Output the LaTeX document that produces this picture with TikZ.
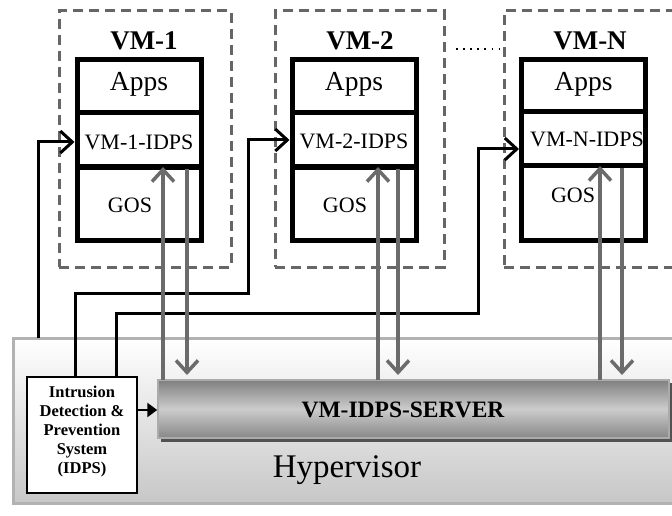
\documentclass[tikz,border=0pt]{standalone}
\usepackage{fontspec}
\setmainfont{Liberation Serif}
\usetikzlibrary{arrows.meta}
\tikzset{
  dashbox/.style={draw=black!60, line width=3pt, dash pattern=on 10pt off 6pt},
  vmpart/.style={draw, line width=5pt, minimum width=124pt, inner sep=0pt, fill=white},
  conn/.style={line width=3pt, -{Straight Barb[length=12pt,width=22pt]}},
  garrow/.style={draw=black!58, line width=3.5pt, -{Straight Barb[length=12pt,width=22pt]}},
  vmtitle/.style={font=\bfseries\fontsize{27}{30}\selectfont},
  appsfont/.style={font=\fontsize{27.5}{30}\selectfont},
  idpsfont/.style={font=\fontsize{22}{24}\selectfont},
  gosfont/.style={font=\fontsize{22}{24}\selectfont},
}
\begin{document}
\begin{tikzpicture}[x=1pt,y=-1pt]
\clip (0,0) rectangle (672,516);
\useasboundingbox (0,0) rectangle (672,516);
\fill[white] (0,0) rectangle (672,516);

% hypervisor
\node[draw=black!30, line width=3pt, top color=white, bottom color=black!22,
      minimum width=677pt, minimum height=165pt, inner sep=0pt] (hyp) at (351.5,420.5) {};
\node[font=\fontsize{33}{36}\selectfont] (hyptxt) at (347,470) {Hypervisor};

% server with shadow
\fill[black!68] (161,383) rectangle (672,442);
\node[draw=black!33, line width=1.5pt, top color=black!50, bottom color=black!47, middle color=black!20,
      minimum width=511pt, minimum height=58pt, inner sep=0pt] (srv) at (413.5,409) {};
\node[font=\bfseries\fontsize{23.5}{26}\selectfont] (srvtxt) at (403,410) {VM-IDPS-SERVER};

% IDPS box
\node[draw, line width=2pt, fill=white, minimum width=110pt, minimum height=116pt, inner sep=0pt] (idps) at (82,435) {};
\node[font=\bfseries\fontsize{16.5}{19}\selectfont, align=center] (idpstxt) at (82,432)
  {Intrusion\\Detection \&\\Prevention\\System\\(IDPS)};
\draw[line width=2.5pt, -{Triangle[length=10pt,width=14pt]}] (idps.east |- 0,410) -- (srv.west |- 0,410);

% dashed VM frames
\node[dashbox, minimum width=172pt, minimum height=256pt, inner sep=0pt] (d1) at (145,139) {};
\node[dashbox, minimum width=169pt, minimum height=256pt, inner sep=0pt] (d2) at (359.5,139) {};
\node[dashbox, minimum width=190pt, minimum height=256pt, inner sep=0pt] (dn) at (599,139) {};

% VM-1
\node[vmtitle] (t1) at (144,41) {VM-1};
\node[vmpart, minimum height=53pt] (a1) at (139,86.5) {};
\node[vmpart, minimum height=54pt] (i1) at (139,140) {};
\node[vmpart, minimum height=73pt] (g1) at (139,203.5) {};
\node[appsfont] (a1t) at (139,84) {Apps};
\node[idpsfont] (i1t) at (139,142) {VM-1-IDPS};
\node[gosfont] (g1t) at (130,205) {GOS};

% VM-2
\node[vmtitle] (t2) at (360,41) {VM-2};
\node[vmpart, minimum height=53pt] (a2) at (354,86.5) {};
\node[vmpart, minimum height=54pt] (i2) at (354,140) {};
\node[vmpart, minimum height=73pt] (g2) at (354,203.5) {};
\node[appsfont] (a2t) at (354,84) {Apps};
\node[idpsfont] (i2t) at (354,141) {VM-2-IDPS};
\node[gosfont] (g2t) at (345,205) {GOS};

% VM-N
\node[vmtitle] (tn) at (590,41) {VM-N};
\node[vmpart, minimum height=53pt] (an) at (583.5,86.5) {};
\node[vmpart, minimum height=54pt] (in) at (583.5,139) {};
\node[vmpart, minimum height=75pt] (gn) at (583.5,203) {};
\node[appsfont] (ant) at (583.5,84) {Apps};
\node[idpsfont] (int) at (587,139) {VM-N-IDPS};
\node[gosfont] (gnt) at (573,195) {GOS};

% dots between VM-2 and VM-N
\coordinate (dotA) at (456,49);
\coordinate (dotB) at (500,49);
\draw[line width=1.6pt, dash pattern=on 1.6pt off 5.5pt] (dotA) -- (dotB);

% black connectors from IDPS
\coordinate (s1) at (38,338);
\coordinate (s2) at (75,377);
\coordinate (s3) at (116,377);
\coordinate (k2a) at (75,293);
\coordinate (k2b) at (248,293);
\coordinate (k3a) at (116,313);
\coordinate (k3b) at (478,313);
\draw[conn] (s1) |- (i1.west |- 0,142);
\draw[conn] (s2) -- (k2a) -- (k2b) |- (i2.west |- 0,140);
\draw[conn] (s3) -- (k3a) -- (k3b) |- (in.west |- 0,149);

% gray arrows VM <-> server
\coordinate (u1b) at (163,380); \coordinate (u1t) at (163,167);
\coordinate (v1t) at (187,169); \coordinate (v1b) at (187,375);
\coordinate (u2b) at (378,380); \coordinate (u2t) at (378,167);
\coordinate (v2t) at (398,169); \coordinate (v2b) at (398,375);
\coordinate (unb) at (600,380); \coordinate (unt) at (600,166);
\coordinate (vnt) at (622,168); \coordinate (vnb) at (622,375);
\draw[garrow] (u1b) -- (u1t);
\draw[garrow] (v1t) -- (v1b);
\draw[garrow] (u2b) -- (u2t);
\draw[garrow] (v2t) -- (v2b);
\draw[garrow] (unb) -- (unt);
\draw[garrow] (vnt) -- (vnb);
\end{tikzpicture}
\end{document}
